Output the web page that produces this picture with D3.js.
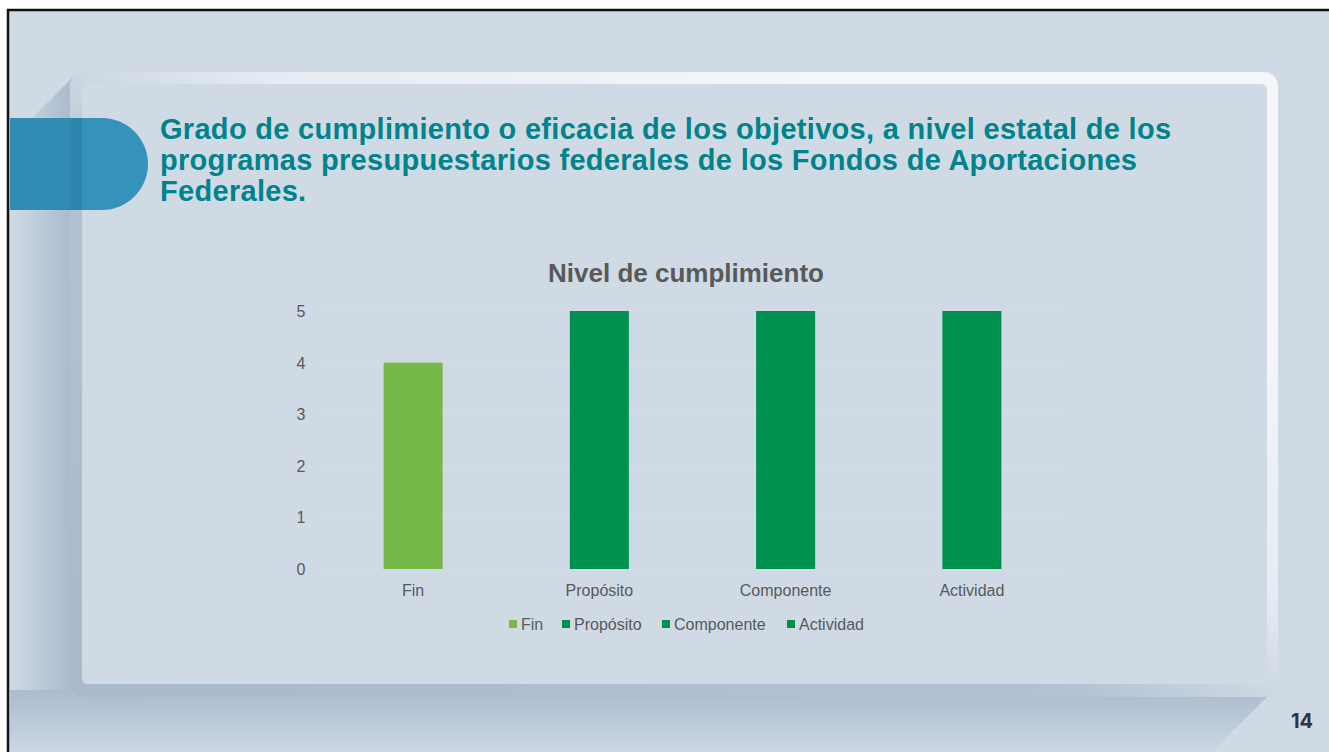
<!DOCTYPE html>
<html>
<head>
<meta charset="utf-8">
<script src="https://cdn.jsdelivr.net/npm/d3@7"></script>
<style>
  html, body { margin: 0; padding: 0; background: #fff; }
  svg { display: block; font-family: Arial, "Liberation Sans", sans-serif; }
</style>
</head>
<body>
<svg id="slide" width="1329" height="752"></svg>
<script>
// Data
const categories = ["Fin", "Propósito", "Componente", "Actividad"];
const values = [4, 5, 5, 5];
const barColors = ["#77b84b", "#009150", "#009150", "#009150"];
const yTicks = [0, 1, 2, 3, 4, 5];
const titleLines = [
    "Grado de cumplimiento o eficacia de los objetivos, a nivel estatal de los",
    "programas presupuestarios federales de los Fondos de Aportaciones",
    "Federales."
];

const svg = d3.select("#slide");
const defs = svg.append("defs");

// slide background + black border
svg.append("rect").attr("x", 8).attr("y", 10).attr("width", 1330).attr("height", 760)
    .attr("fill", "#cfdae5").attr("stroke", "#111").attr("stroke-width", 2.5);

// shadow gradients
const sh1 = defs.append("linearGradient").attr("id", "shLeft").attr("x1", 0).attr("x2", 1);
sh1.append("stop").attr("offset", 0).attr("stop-color", "#cfdae5");
sh1.append("stop").attr("offset", 1).attr("stop-color", "#9fb1c6");
const sh2 = defs.append("linearGradient").attr("id", "shBottom").attr("x1", 0).attr("y1", 0).attr("x2", 0).attr("y2", 1);
sh2.append("stop").attr("offset", 0).attr("stop-color", "#a5b6ca");
sh2.append("stop").attr("offset", 1).attr("stop-color", "#cad6e2");

// left shadow strip with top-left fold
svg.append("path")
    .attr("d", "M10,140 L74,76 L74,690 L10,690 Z")
    .attr("fill", "url(#shLeft)").attr("opacity", 0.8);
// bottom shadow with diagonal
svg.append("path")
    .attr("d", "M10,690 L1274,690 L1212,752 L10,752 Z")
    .attr("fill", "url(#shBottom)").attr("opacity", 0.85);

// card frame: dark on the left/bottom, light on top/right
const frameGrad = defs.append("linearGradient").attr("id", "frame")
    .attr("x1", 0).attr("y1", 1).attr("x2", 1).attr("y2", 0);
frameGrad.append("stop").attr("offset", 0).attr("stop-color", "#a9b9cc");
frameGrad.append("stop").attr("offset", 0.42).attr("stop-color", "#b3c2d3");
frameGrad.append("stop").attr("offset", 0.58).attr("stop-color", "#e6ecf3");
frameGrad.append("stop").attr("offset", 0.8).attr("stop-color", "#f4f6fa");
frameGrad.append("stop").attr("offset", 1).attr("stop-color", "#f4f6fa");
svg.append("rect").attr("x", 70).attr("y", 72).attr("width", 1208).attr("height", 625)
    .attr("rx", 14).attr("fill", "url(#frame)");
svg.append("rect").attr("x", 82).attr("y", 84).attr("width", 1185).attr("height", 600)
    .attr("rx", 6).attr("fill", "#cfdae5");

// blue pill
svg.append("path")
    .attr("d", "M10,118 L102,118 A46,46 0 0 1 102,210 L10,210 Z")
    .attr("fill", "#3593bb");
svg.append("rect").attr("x", 10).attr("y", 118).attr("width", 60).attr("height", 92)
    .attr("fill", "#1c5c86").attr("opacity", 0.12);
svg.append("rect").attr("x", 70).attr("y", 118).attr("width", 12).attr("height", 92)
    .attr("fill", "#1c5c86").attr("opacity", 0.25);

// title
svg.append("text")
    .attr("fill", "#00838b")
    .style("font-size", "29px").style("font-weight", "bold")
    .style("letter-spacing", "0.3px")
    .selectAll("tspan").data(titleLines).join("tspan")
    .attr("x", 160).attr("y", (d, i) => 139 + i * 31)
    .text(d => d);

// page number
svg.append("text").attr("x", 1302).attr("y", 728).attr("text-anchor", "middle")
    .attr("fill", "#33333f").style("font-size", "20px").style("font-weight", "bold")
    .style("font-family", "Inter, 'Open Sans', sans-serif")
    .text("14");

// chart
const x = d3.scaleBand().domain(categories).range([320, 1065]).padding(0);
const y = d3.scaleLinear().domain([0, 5]).range([569, 311]);
const barW = x.bandwidth() * 0.317;

svg.append("text").attr("x", 686).attr("y", 282).attr("text-anchor", "middle")
    .attr("fill", "#595959").style("font-size", "26px").style("font-weight", "bold")
    .text("Nivel de cumplimiento");

// gridlines
svg.append("g").selectAll("line").data(yTicks).join("line")
    .attr("x1", 320).attr("x2", 1065)
    .attr("y1", d => y(d)).attr("y2", d => y(d))
    .attr("stroke", "#d9dde2").attr("stroke-width", 1);

// y labels
svg.append("g").selectAll("text").data(yTicks).join("text")
    .attr("x", 301).attr("y", d => y(d) + 6).attr("text-anchor", "middle")
    .attr("fill", "#595959").style("font-size", "16px")
    .text(d => d);

// bars
svg.append("g").selectAll("rect").data(categories).join("rect")
    .attr("x", d => x(d) + x.bandwidth() / 2 - barW / 2)
    .attr("width", barW)
    .attr("y", (d, i) => y(values[i]))
    .attr("height", (d, i) => y(0) - y(values[i]))
    .attr("fill", (d, i) => barColors[i]);

// x labels
svg.append("g").selectAll("text").data(categories).join("text")
    .attr("x", d => x(d) + x.bandwidth() / 2).attr("y", 596).attr("text-anchor", "middle")
    .attr("fill", "#595959").style("font-size", "16px")
    .text(d => d);

// legend
const legendX = [509, 562, 662, 787];
const legend = svg.append("g").selectAll("g").data(categories).join("g")
    .attr("transform", (d, i) => `translate(${legendX[i]},620)`);
legend.append("rect").attr("width", 8).attr("height", 8)
    .attr("fill", (d, i) => barColors[i]);
legend.append("text").attr("x", 12).attr("y", 10)
    .attr("fill", "#595959").style("font-size", "16px")
    .text(d => d);
</script>
</body>
</html>
